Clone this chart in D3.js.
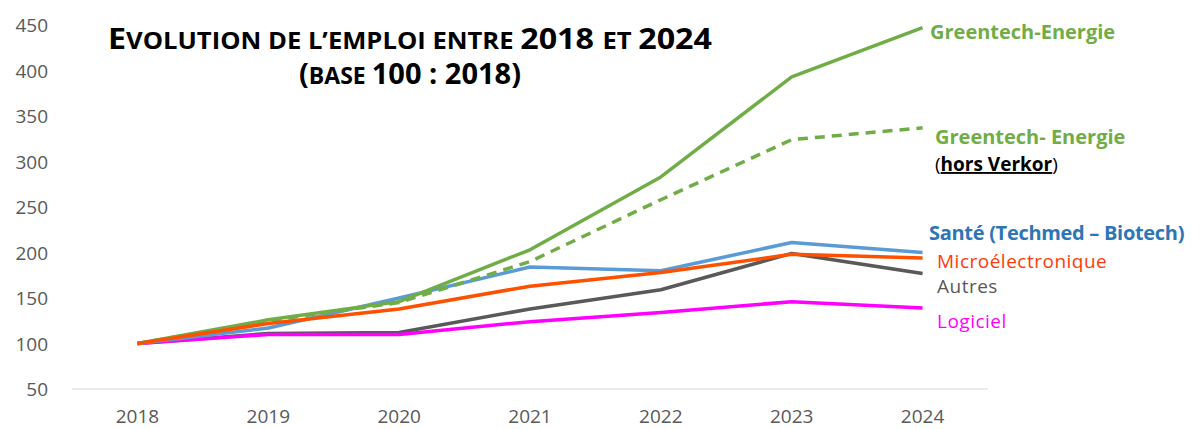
<!DOCTYPE html>
<meta charset="utf-8">
<script src="https://d3js.org/d3.v7.min.js"></script>
<style>
body { margin: 0; background: #fff; }
text { font-family: "Open Sans", sans-serif; }
.axis text { fill: #595959; font-size: 19px; }
</style>
<body>
<div id="chart"></div>
<script>
var years = ["2018", "2019", "2020", "2021", "2022", "2023", "2024"]
var yTicks = [50, 100, 150, 200, 250, 300, 350, 400, 450]

var greentech = [100, 126, 146, 203, 283, 393, 447]
var greentechHorsVerkor = [100, 125, 145, 190, 258, 324, 337]
var sante = [100, 117, 150, 184, 180, 211, 200]
var micro = [100, 122, 138, 163, 178, 198, 194]
var autres = [100, 111, 112, 138, 159, 199, 177]
var logiciel = [100, 110, 110, 124, 134, 146, 139]

var seriesNames = ["Autres", "Logiciel", "Santé", "Greentech hors Verkor", "Greentech", "Microélectronique"]
var seriesValues = [autres, logiciel, sante, greentechHorsVerkor, greentech, micro]
var seriesColors = ["#595959", "#FF00FF", "#5B9BD5", "#70AD47", "#70AD47", "#FF5000"]
var seriesDash = [null, null, null, "10,7", null, null]

var width = 1200, height = 429
var margin = {top: 25, left: 72, right: 212, bottom: 40}

var svg = d3.select("#chart").append("svg")
  .attr("width", width)
  .attr("height", height)

var x = d3.scaleBand()
  .domain(years)
  .range([margin.left, width - margin.right])

var y = d3.scaleLinear()
  .domain([50, 450])
  .range([389, 25])

// x axis line at 50
svg.append("line")
  .attr("x1", margin.left).attr("x2", width - margin.right)
  .attr("y1", y(50)).attr("y2", y(50))
  .attr("stroke", "#d9d9d9").attr("stroke-width", 1)

var xAxis = svg.append("g")
  .attr("class", "axis")
  .attr("transform", "translate(0," + y(50) + ")")
  .call(d3.axisBottom(x).tickSize(0).tickPadding(21))
xAxis.select(".domain").remove()

var yAxis = svg.append("g")
  .attr("class", "axis")
  .attr("transform", "translate(48,0)")
  .call(d3.axisLeft(y).tickValues(yTicks).tickSize(0).tickPadding(0))
yAxis.select(".domain").remove()
yAxis.selectAll("text").attr("dy", "0.35em")

var line = d3.line()
  .x(function(d, i) { return x(years[i]) + x.bandwidth() / 2 })
  .y(function(d) { return y(d) })

for (var i = 0; i < seriesValues.length; ++i) {
  svg.append("path")
    .datum(seriesValues[i])
    .attr("d", line)
    .attr("fill", "none")
    .attr("stroke", seriesColors[i])
    .attr("stroke-width", 3.5)
    .attr("stroke-dasharray", seriesDash[i])
    .attr("stroke-linejoin", "round")
}

// title, small caps done by hand (big / small letters)
var big = 29, small = 23
var titleLines = [
  [["E", big], ["VOLUTION DE L’EMPLOI ENTRE ", small], ["2018 ", big], ["ET ", small], ["2024", big]],
  [["(", big], ["BASE ", small], ["100 : 2018)", big]]
]
var titleY = [49, 84]
var titleLen = [604, 222]
titleLines.forEach(function(segs, k) {
  var t = svg.append("text")
    .attr("x", 410 - titleLen[k] / 2).attr("y", titleY[k])
    .attr("font-weight", "bold")
    .attr("fill", "#000")
    .attr("textLength", titleLen[k])
    .attr("lengthAdjust", "spacingAndGlyphs")
  segs.forEach(function(s) {
    t.append("tspan").attr("font-size", s[1] + "px").text(s[0])
  })
})

// series labels
var fs = "19px"
svg.append("text").attr("x", 930).attr("y", 39)
  .attr("font-size", "20px").attr("font-weight", "bold").attr("fill", "#70AD47")
  .text("Greentech-Energie")
svg.append("text").attr("x", 935).attr("y", 144)
  .attr("font-size", "20px").attr("font-weight", "bold").attr("fill", "#70AD47")
  .text("Greentech- Energie")
var hv = svg.append("text").attr("x", 935).attr("y", 171)
  .attr("font-size", fs).attr("fill", "#000")
hv.append("tspan").text("(")
hv.append("tspan").attr("font-weight", "bold").attr("text-decoration", "underline").text("hors Verkor")
hv.append("tspan").text(")")
svg.append("text").attr("x", 929).attr("y", 240)
  .attr("font-size", "20px").attr("font-weight", "bold").attr("fill", "#2E75B6")
  .attr("letter-spacing", "-0.3px")
  .text("Santé (Techmed – Biotech)")
svg.append("text").attr("x", 937).attr("y", 268)
  .attr("font-size", fs).attr("fill", "#FF3A0A")
  .attr("letter-spacing", "0.5px")
  .text("Microélectronique")
svg.append("text").attr("x", 937).attr("y", 293)
  .attr("font-size", fs).attr("fill", "#595959")
  .attr("letter-spacing", "0.5px")
  .text("Autres")
svg.append("text").attr("x", 937).attr("y", 328)
  .attr("font-size", fs).attr("fill", "#FF00FF")
  .attr("letter-spacing", "0.5px")
  .text("Logiciel")
</script>
</body>
